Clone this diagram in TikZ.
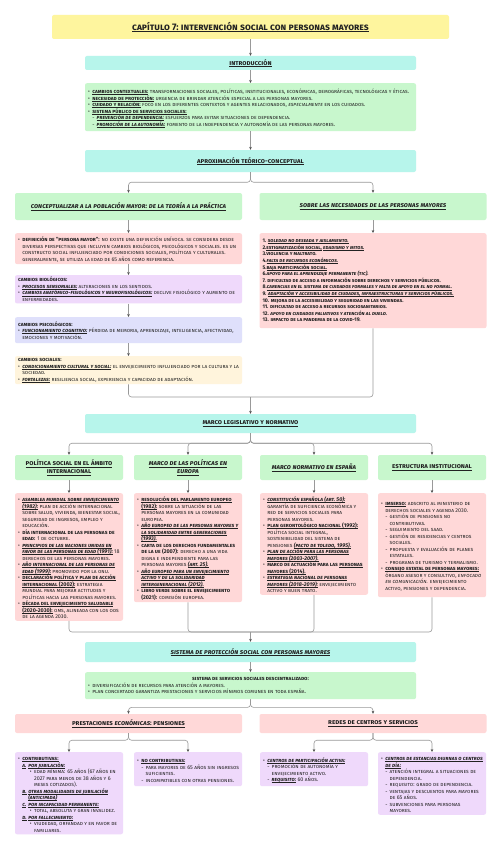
\documentclass[tikz,border=0pt]{standalone}
\usepackage{fontspec}
\setmainfont{Fira Sans}[Letters={SmallCaps,UppercaseSmallCaps}]
\usepackage{xcolor}
\usepackage{tikz}
\usetikzlibrary{arrows.meta, positioning}

\definecolor{ttlc}{HTML}{FEF59E}
\definecolor{cyn}{HTML}{B7F5EB}
\definecolor{grn}{HTML}{C8F7CD}
\definecolor{pnk}{HTML}{FFD8D8}
\definecolor{prp}{HTML}{EFD9FB}
\definecolor{lav}{HTML}{DFE0FB}
\definecolor{crm}{HTML}{FFF4DC}
\definecolor{ink}{HTML}{222222}

\hyphenpenalty=10000
\exhyphenpenalty=10000

\newcommand{\titlefont}{\fontsize{9.5}{11}\selectfont\bfseries}
\newcommand{\hdrfont}{\fontsize{6.8}{8}\selectfont\bfseries}
\newcommand{\bodyfont}{\fontsize{5.4}{6.5}\selectfont}
\newcommand{\listfont}{\fontsize{5.2}{6.6}\selectfont}

% word by word underline that can break across lines
\makeatletter
\newcommand{\ulword}[1]{\setbox0\hbox{#1}\rlap{\vrule width\wd0 height -0.12em depth 0.18em}\box0\relax}
\newcommand{\ulspace}{\leaders\hrule height -0.12em depth 0.18em\hskip\fontdimen2\font\relax}
\def\ulwords#1 #2\ulend{\ulword{#1}\if\relax\detokenize{#2}\relax\expandafter\@gobble\else\expandafter\@firstofone\fi{\ulspace\ulwords#2\ulend}}
\newcommand{\uline}[1]{\leavevmode\ulwords#1 \ulend}
\makeatother
\newcommand{\lbl}[1]{\textbf{\uline{#1}}}
\newcommand{\lbli}[1]{\textbf{\textit{\uline{#1}}}}

% list items with hanging indent
\newcommand{\itm}[3][0.8em]{\par\noindent\parshape 2 #2 \dimexpr\hsize-#2\relax \dimexpr#2+#1\relax \dimexpr\hsize-#2-#1\relax\hbox to #1{#3\hfil}}
\newcommand{\bul}{\itm{0pt}{\textbullet}}
\newcommand{\dsh}{\itm{0.8em}{-}}
\newcommand{\lett}[1]{\itm[1.1em]{0.8em}{\lbli{#1}}}
\newcommand{\subbul}{\itm{2.2em}{\textbullet}}

\begin{document}
\begin{tikzpicture}[
    x=1pt, y=-1pt,
    block/.style={rectangle, rounded corners=2pt, fill=#1, inner xsep=3pt, inner ysep=2pt, text=ink},
    hdr/.style={block=#1, align=flush center, font=\hdrfont},
    txt/.style={block=#1, align=flush left, anchor=north, font=\bodyfont},
    wide/.style={text width=325pt},
    half/.style={text width=221pt},
    quart/.style={text width=102pt},
    line/.style={draw=gray!80, line width=0.6pt, rounded corners=3pt},
    arrow/.style={line, -{Stealth[length=3pt, width=2.6pt, color=ink!80]}}
]
\path[fill=white] (0,0) rectangle (502,848);
\useasboundingbox (0,0) rectangle (502,848);

% Title and introduction
\node[hdr=ttlc, text width=391pt, minimum height=24pt, font=\titlefont] (tit) at (250.5,27) {\uline{Capítulo 7: Intervención social con personas mayores}};
\node[hdr=cyn, wide, minimum height=14pt] (intro) at (250.5,63) {\uline{Introducción}};
\node[txt=grn, wide, minimum height=48pt] (introtxt) at (250.5,83) {%
\bul \lbl{Cambios contextuales:} Transformaciones sociales, políticas, institucionales, económicas, demográficas, tecnológicas y éticas.
\bul \lbl{Necesidad de protección:} Urgencia de brindar atención especial a las personas mayores.
\bul \lbl{Cuidado y relación:} Foco en los diferentes contextos y agentes relacionados, \textit{especialmente} en los cuidados.
\bul \lbl{Sistema Público de Servicios Sociales:}
\dsh \lbli{Prevención de dependencia:} Esfuerzos para evitar situaciones de dependencia.
\dsh \lbli{Promoción de la autonomía:} Fomento de la independencia y autonomía de las personas mayores.\par};

% Theoretical approach
\node[hdr=cyn, wide, minimum height=22pt] (apx) at (250.5,161) {\uline{Aproximación teórico-conceptual}};
\node[hdr=grn, half, minimum height=27pt] (pobhd) at (128.5,206.5) {\textit{\uline{Conceptualizar a la población mayor: de la teoría a la práctica}}};
\node[hdr=grn, half, minimum height=27pt] (nechd) at (373,206.5) {\textit{\uline{Sobre las necesidades de las personas mayores}}};

\node[txt=pnk, half, minimum height=29pt] (def) at (128.5,233) {%
\bul \textbf{Definición de "persona mayor":} No existe una definición unívoca. Se considera desde diversas perspectivas que incluyen cambios biológicos, psicológicos y sociales. Es un constructo social influenciado por condiciones sociales, políticas y culturales. Generalmente, se utiliza la edad de 65 años como referencia.\par};
\node[txt=prp, half, minimum height=28pt] (bio) at (128.5,275) {%
\textbf{Cambios biológicos:}
\bul \lbli{Procesos sensoriales:} Alteraciones en los sentidos.
\bul \lbli{Cambios anatómico-fisiológicos y neurofisiológicos:} Declive fisiológico y aumento de enfermedades.\par};
\node[txt=lav, half, minimum height=26pt] (psi) at (128.5,317) {%
\textbf{Cambios psicológicos:}
\bul \lbli{Funcionamiento cognitivo:} Pérdida de memoria, aprendizaje, inteligencia, afectividad, emociones y motivación.\par};
\node[txt=crm, half, minimum height=28pt] (soc) at (128.5,356) {%
\textbf{Cambios sociales:}
\bul \lbli{Condicionamiento cultural y social:} El envejecimiento influenciado por la cultura y la sociedad.
\bul \lbli{Fortalezas:} Resiliencia social, experiencia y capacidad de adaptación.\par};

\node[txt=pnk, half, minimum height=95pt, font=\listfont] (nec) at (373,233) {%
\textbf{1. \textit{\uline{Soledad no deseada y aislamiento.}}}\\
\textbf{2.\uline{Estigmatización social,} \textit{\uline{edadismo y mitos.}}}\\
\textbf{3.Violencia y maltrato.}\\
\textbf{4.\textit{\uline{Falta de recursos económicos.}}}\\
\textbf{5.\uline{Baja participación social.}}\\
\textbf{6.\textit{Apoyo para el aprendizaje permanente (TIC).}}\\
\textbf{7. Dificultad de acceso a información sobre derechos y servicios públicos.}\\
\textbf{8.\textit{\uline{Carencias en el sistema de cuidados formales y falta de apoyo en el no formal.}}}\\
\textbf{9. \textit{\uline{Adaptación y accesibilidad de ciudades, infraestructuras y servicios públicos.}}}\\
\textbf{10. Mejora de la accesibilidad y seguridad en las viviendas.}\\
\textbf{11. Dificultad de acceso a recursos sociosanitarios.}\\
\textbf{12. \textit{Apoyo en cuidados paliativos y atención al duelo.}}\\
\textbf{13. Impacto de la pandemia de la COVID-19.}};

\coordinate (mrgleg) at (250.5,397);

% Legislative framework
\node[hdr=cyn, wide, minimum height=19pt] (mlg) at (250.5,423.5) {\uline{Marco legislativo y normativo}};
\node[hdr=grn, quart, minimum height=25pt] (inthd) at (69,467.5) {\uline{Política social en el ámbito internacional}};
\node[hdr=grn, quart, minimum height=25pt] (euhd) at (188,467.5) {\textit{\uline{Marco de las políticas en}}\\\textit{\uline{Europa}}};
\node[hdr=grn, quart, minimum height=25pt] (eshd) at (314,467.5) {\textit{\uline{Marco normativo en España}}};
\node[hdr=grn, quart, minimum height=25pt] (insthd) at (432,467.5) {\uline{Estructura institucional}};

\node[txt=pnk, quart, minimum height=125pt] (intl) at (69,493) {%
\bul \lbli{Asamblea Mundial sobre Envejecimiento (1982):} Plan de Acción Internacional sobre salud, vivienda, bienestar social, seguridad de ingresos, empleo y educación.
\bul \textbf{Día Internacional de las Personas de Edad:} 1 de octubre.
\bul \lbli{Principios de las Naciones Unidas en Favor de las Personas de Edad (1991):} 18 derechos de las personas mayores.
\bul \lbli{Año Internacional de las Personas de Edad (1999):} Promovido por la ONU.
\bul \lbl{Declaración Política y Plan de Acción Internacional (2002):} Estrategia mundial para mejorar actitudes y políticas hacia las personas mayores.
\bul \lbl{Década del Envejecimiento Saludable (2020-2030):} OMS, alineada con los ODS de la Agenda 2030.\par};
\node[txt=pnk, quart, minimum height=105pt] (eur) at (188,493) {%
\bul \lbl{Resolución del Parlamento Europeo (1982):} Sobre la situación de las personas mayores en la Comunidad Europea.
\bul \lbli{Año Europeo de las Personas Mayores y la Solidaridad entre Generaciones (1993).}
\bul \textbf{Carta de los Derechos Fundamentales de la UE (2007):} Derecho a una vida digna e independiente para las personas mayores \lbli{(Art. 25).}
\bul \lbli{Año Europeo para un Envejecimiento Activo y de la Solidaridad Intergeneracional (2012).}
\bul \textbf{Libro Verde sobre el Envejecimiento (2021):} Comisión Europea.\par};
\node[txt=pnk, quart, minimum height=100pt] (esp) at (314,493) {%
\bul \lbli{Constitución Española (Art. 50):} Garantía de suficiencia económica y red de servicios sociales para personas mayores.
\bul \lbl{Plan Gerontológico Nacional (1992):} Política social integral, sostenibilidad del sistema de pensiones \lbli{(Pacto de Toledo, 1995).}
\bul \lbli{Plan de Acción para las Personas Mayores (2003-2007).}
\bul \textbf{Marco de Actuación para las \uline{Personas Mayores (2014).}}
\bul \lbli{Estrategia Nacional de Personas Mayores (2018-2019):} Envejecimiento activo y buen trato.\par};
\node[txt=pnk, quart, minimum height=104pt] (inst) at (432,493) {%
\bul \lbl{IMSERSO:} Adscrito al Ministerio de Derechos Sociales y Agenda 2030.
\dsh Gestión de pensiones no contributivas.
\dsh Seguimiento del SAAD.
\dsh Gestión de residencias y centros sociales.
\dsh Propuesta y evaluación de planes estatales.
\dsh Programa de turismo y termalismo.
\bul \lbl{Consejo Estatal de Personas Mayores:} Órgano asesor y consultivo, \textit{enfocado en comunicación.} Envejecimiento activo, pensiones y dependencia.\par};

\coordinate (mrgprot) at (250.5,632);

% Social protection system
\node[hdr=cyn, wide, minimum height=20pt] (spr) at (250.5,652) {\textit{\uline{Sistema de protección social con personas mayores}}};
\node[txt=grn, wide, minimum height=27pt] (ssd) at (250.5,672) {%
{\centering\textbf{Sistema de servicios sociales descentralizado:}\par}
\bul Diversificación de recursos para atención a mayores.
\bul Plan Concertado garantiza prestaciones y servicios mínimos comunes en toda España.\par};
\node[hdr=pnk, half, minimum height=19pt] (penhd) at (128.5,723.5) {\uline{Prestaciones \textit{económicas}: pensiones}};
\node[hdr=pnk, half, minimum height=19pt] (redhd) at (373,723.5) {\uline{Redes de centros y servicios}};

\node[txt=prp, quart, minimum height=80pt] (contr) at (69,752) {%
\bul \lbl{Contributivas:}
\lett{A.}\lbli{Por jubilación:}
\subbul Edad mínima: 65 años (67 años en 2027 para menos de 38 años y 6 meses cotizados).
\lett{B.}\lbli{Otras modalidades de jubilación (anticipada)}
\lett{C.}\lbli{Por incapacidad permanente:}
\subbul Total, absoluta y gran invalidez.
\lett{D.}\lbli{Por fallecimiento:}
\subbul Viudedad, orfandad y en favor de familiares.\par};
\node[txt=prp, quart, minimum height=34pt] (nocontr) at (188,752) {%
\bul \lbl{No contributivas:}
\dsh Para mayores de 65 años sin ingresos suficientes.
\dsh Incompatibles con otras pensiones.\par};
\node[txt=prp, quart, minimum height=34pt] (cpa) at (314,752) {%
\bul \lbli{Centros de participación activa:}
\dsh Promoción de autonomía y envejecimiento activo.
\dsh \lbli{Requisito:} 60 años.\par};
\node[txt=prp, quart, minimum height=58pt] (cdia) at (432,752) {%
\bul \lbli{Centros de estancias diurnas o centros de día:}
\dsh Atención integral a situaciones de dependencia.
\dsh Requisito: Grado de dependencia.
\dsh Ventajas y descuentos para mayores de 65 años.
\dsh Subvenciones para personas mayores.\par};

% Connectors
\draw[arrow] (tit) -- (intro);
\draw[arrow] (intro) -- (introtxt);
\draw[arrow] (introtxt) -- (apx);
\draw[arrow] (apx.south) -- ++(0,10) -| (pobhd.north);
\draw[arrow] (apx.south) -- ++(0,10) -| (nechd.north);
\draw[arrow] (pobhd) -- (def);
\draw[arrow] (def) -- (bio);
\draw[arrow] (bio) -- (psi);
\draw[arrow] (psi) -- (soc);
\draw[arrow] (nechd) -- (nec);
\draw[line] (soc.south) |- (mrgleg);
\draw[line] (nec.south) |- (mrgleg);
\draw[arrow] (mrgleg) -- (mlg.north);

\foreach \hd in {inthd, euhd, eshd, insthd}
  \draw[arrow] (mlg.south) -- ++(0,10) -| (\hd.north);
\draw[arrow] (inthd) -- (intl);
\draw[arrow] (euhd) -- (eur);
\draw[arrow] (eshd) -- (esp);
\draw[arrow] (insthd) -- (inst);
\foreach \bx in {intl, eur, esp, inst}
  \draw[line] (\bx.south) |- (mrgprot);
\draw[arrow] (mrgprot) -- (spr.north);

\draw[arrow] (spr) -- (ssd);
\draw[arrow] (ssd.south) -- ++(0,8) -| (penhd.north);
\draw[arrow] (ssd.south) -- ++(0,8) -| (redhd.north);
\draw[arrow] (penhd.south) -- ++(0,7) -| (contr.north);
\draw[arrow] (penhd.south) -- ++(0,7) -| (nocontr.north);
\draw[arrow] (redhd.south) -- ++(0,7) -| (cpa.north);
\draw[arrow] (redhd.south) -- ++(0,7) -| (cdia.north);

\end{tikzpicture}
\end{document}
